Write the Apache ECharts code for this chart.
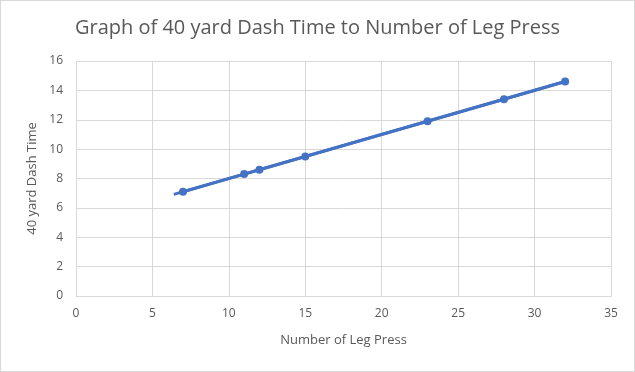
<!DOCTYPE html>
<html><head><meta charset="utf-8">
<script src="https://cdn.jsdelivr.net/npm/echarts@6/dist/echarts.min.js"></script>
<style>
html,body{margin:0;padding:0;background:#fff;}
#c{width:635px;height:372px;box-sizing:border-box;border:1px solid #d9d9d9;}
</style></head>
<body><div id="c"></div>
<script>
var legPress = [7, 11, 12, 15, 23, 28, 32];
var dashTime = [7.1, 8.3, 8.6, 9.5, 11.9, 13.4, 14.6];
var trendStartX = 6.4;
var xTicks = {min: 0, max: 35, interval: 5};
var yTicks = {min: 0, max: 16, interval: 2};

// least-squares linear fit
var n = legPress.length, sx = 0, sy = 0, sxx = 0, sxy = 0;
for (var i = 0; i < n; i++) { sx += legPress[i]; sy += dashTime[i]; sxx += legPress[i]*legPress[i]; sxy += legPress[i]*dashTime[i]; }
var slope = (n*sxy - sx*sy) / (n*sxx - sx*sx);
var icpt = (sy - slope*sx) / n;
var xEnd = legPress[n-1];
var trend = [[trendStartX, slope*trendStartX + icpt], [xEnd, slope*xEnd + icpt]];
var pts = legPress.map(function(x, i){ return [x, dashTime[i]]; });

var chart = echarts.init(document.getElementById('c'));
var font = 'Open Sans, Noto Sans, sans-serif';
chart.setOption({
  animation: false,
  title: {text: 'Graph of 40 yard Dash Time to Number of Leg Press', left: 'center', top: 12,
    textStyle: {fontFamily: font, fontSize: 20, fontWeight: 'normal', color: '#595959'}},
  grid: {left: 75, right: 23, top: 60, bottom: 75},
  xAxis: {type: 'value', min: xTicks.min, max: xTicks.max, interval: xTicks.interval,
    name: 'Number of Leg Press', nameLocation: 'middle', nameGap: 38,
    nameTextStyle: {fontFamily: font, fontSize: 13, color: '#595959'},
    axisLine: {show: true, lineStyle: {color: '#d9d9d9'}}, axisTick: {show: false},
    axisLabel: {fontFamily: font, fontSize: 12, color: '#595959', margin: 12},
    splitLine: {show: true, lineStyle: {color: '#d9d9d9'}}},
  yAxis: {type: 'value', min: yTicks.min, max: yTicks.max, interval: yTicks.interval,
    name: '40 yard Dash Time', nameLocation: 'middle', nameGap: 37, nameRotate: 90,
    nameTextStyle: {fontFamily: font, fontSize: 13, color: '#595959'},
    axisLine: {show: false}, axisTick: {show: false},
    axisLabel: {fontFamily: font, fontSize: 12, color: '#595959', margin: 13},
    splitLine: {show: true, lineStyle: {color: '#d9d9d9'}}},
  series: [
    {type: 'line', data: trend, symbol: 'none', lineStyle: {color: '#4472C4', width: 3}, z: 2},
    {type: 'line', data: pts, symbol: 'circle', symbolSize: 8,
     itemStyle: {color: '#4472C4'}, lineStyle: {color: '#4472C4', width: 3}, z: 3}
  ]
});
</script></body></html>
